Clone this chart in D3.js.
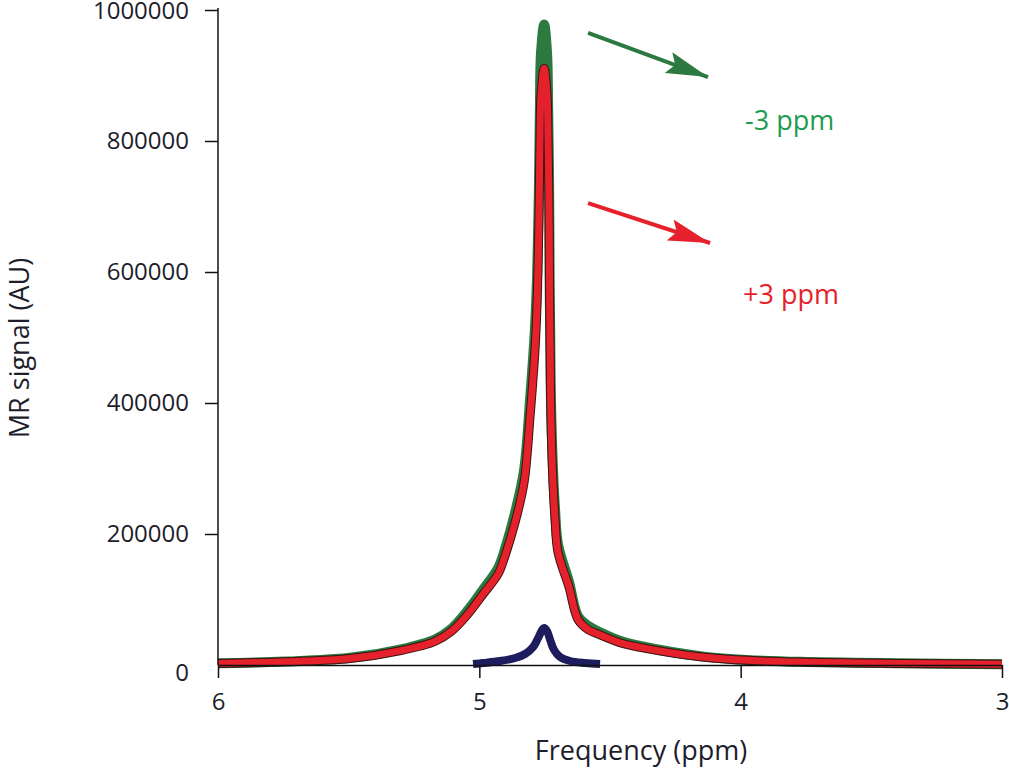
<!DOCTYPE html>
<html>
<head>
<meta charset="utf-8">
<script src="https://cdn.jsdelivr.net/npm/d3@7"></script>
<style>
  body { margin: 0; background: #fff; }
  svg { display: block; font-family: "Open Sans", "Noto Sans", sans-serif; }
  .axis text { font-family: "Open Sans", "Noto Sans", sans-serif; font-size: 24px; fill: #1d1d2b; }
  .axis path, .axis line { stroke: #111; stroke-width: 1.5; }
</style>
</head>
<body>
<script>
// frequency samples (ppm)
const ppm = [6.000, 5.744, 5.495, 5.300, 5.170, 5.108, 5.043, 4.986, 4.928, 4.898,
             4.863, 4.829, 4.806, 4.787, 4.779, 4.772, 4.768, 4.764, 4.752, 4.741,
             4.737, 4.733, 4.731, 4.729, 4.726, 4.718, 4.710, 4.699, 4.657, 4.622,
             4.584, 4.538, 4.462, 4.385, 4.155, 4.014, 3.773, 3.390, 3.000];
// -3 ppm (green)
const minus3 = [2600, 5200, 11000, 24000, 39000, 55000, 84000, 115000, 148000, 182000,
                233000, 297000, 405000, 515000, 592000, 730000, 860000, 935000, 978000, 935000,
                860000, 730000, 592000, 515000, 405000, 297000, 236000, 184000, 127000, 74000,
                60000, 50000, 37000, 29000, 13500, 8500, 4800, 2600, 1300];
// +3 ppm (red)
const plus3 = [2400, 5000, 10000, 22000, 36000, 51000, 78000, 108000, 139000, 171000,
               218000, 278000, 379000, 481000, 553000, 679000, 802000, 870000, 911000, 870000,
               802000, 679000, 553000, 481000, 379000, 278000, 221000, 172000, 119000, 69000,
               54000, 46000, 34000, 27000, 12500, 8000, 4500, 2400, 1200];
// small blue peak
const bluePpm = [5.024, 4.986, 4.921, 4.863, 4.825, 4.794, 4.775, 4.760, 4.752, 4.741,
                 4.729, 4.714, 4.691, 4.653, 4.595, 4.538];
const blueVal = [1500, 3000, 6000, 10700, 16800, 27500, 41200, 53400, 56500, 51900,
                 38200, 22900, 12200, 6100, 3000, 1500];

const xTicks = [6, 5, 4, 3];
const yTicks = [0, 200000, 400000, 600000, 800000, 1000000];

const w = 1009;
const h = 771;

const x = d3.scaleLinear().domain([6, 3]).range([218, 1002]);
const y = d3.scaleLinear().domain([0, 1000000]).range([665, 10]);

const svg = d3.select('body')
              .append('svg')
              .attr('width', w)
              .attr('height', h);

const line = d3.line()
               .x(d => x(d[0]))
               .y(d => y(d[1]))
               .curve(d3.curveCatmullRom.alpha(0.5));

const zip = (a, b) => a.map((v, i) => [v, b[i]]);

// curves
svg.append('path')
   .attr('d', line(zip(ppm, minus3)))
   .attr('fill', 'none')
   .attr('stroke', '#2c7a3f')
   .attr('stroke-width', 10)
   .attr('stroke-linejoin', 'round');

svg.append('path')
   .attr('d', line(zip(ppm, plus3)))
   .attr('fill', 'none')
   .attr('stroke', '#3b1414')
   .attr('stroke-width', 9)
   .attr('stroke-linejoin', 'round');

svg.append('path')
   .attr('d', line(zip(ppm, plus3)))
   .attr('fill', 'none')
   .attr('stroke', '#e5222b')
   .attr('stroke-width', 7)
   .attr('stroke-linejoin', 'round');

svg.append('path')
   .attr('d', line(zip(bluePpm, blueVal)))
   .attr('fill', 'none')
   .attr('stroke', '#1c1c5e')
   .attr('stroke-width', 8)
   .attr('stroke-linejoin', 'round');

// axes
const xAxis = d3.axisBottom(x).tickValues(xTicks).tickSize(13).tickSizeOuter(0).tickPadding(15)
                .tickFormat(d3.format('d'));
const yAxis = d3.axisLeft(y).tickValues(yTicks).tickSize(13).tickSizeOuter(0).tickPadding(16)
                .tickFormat(d3.format('d'));

svg.append('g')
   .attr('class', 'axis')
   .attr('id', 'x-axis')
   .attr('font-family', null)
   .attr('transform', 'translate(0,' + y(0) + ')')
   .call(xAxis);

const gy = svg.append('g')
   .attr('class', 'axis')
   .attr('id', 'y-axis')
   .attr('transform', 'translate(' + x(6) + ',0)')
   .call(yAxis);
gy.selectAll('.tick').filter(d => d === 0).select('line').remove();
gy.selectAll('.tick').filter(d => d === 0).select('text').attr('dy', '0.65em');
gy.select('.domain').attr('d', 'M0,' + (y(1000000) - 2) + 'V' + y(0));
gy.selectAll('.tick').filter(d => d === 1000000).select('text').attr('dy', '0.36em');

svg.append('text')
   .text('Frequency (ppm)')
   .attr('x', 641)
   .attr('y', 760)
   .attr('text-anchor', 'middle')
   .attr('font-size', 27)
   .attr('fill', '#1d1d2b');

svg.append('text')
   .text('MR signal (AU)')
   .attr('transform', 'translate(29,348)rotate(-90)')
   .attr('text-anchor', 'middle')
   .attr('font-size', 27)
   .attr('fill', '#1d1d2b');

// annotations
const defs = svg.append('defs');
[['head-green', '#2c7a3f'], ['head-red', '#e5222b']].forEach(([id, c]) => {
  defs.append('marker')
      .attr('id', id)
      .attr('markerUnits', 'userSpaceOnUse')
      .attr('viewBox', '0 -12 44 24')
      .attr('markerWidth', 44)
      .attr('markerHeight', 24)
      .attr('refX', 42)
      .attr('refY', 0)
      .attr('orient', 'auto')
      .append('path')
      .attr('d', 'M0,-11L42,0L0,11L7,0Z')
      .attr('fill', c);
});

svg.append('line')
   .attr('x1', x(4.584)).attr('y1', y(964900))
   .attr('x2', x(4.125)).attr('y2', y(897700))
   .attr('stroke', '#2c7a3f')
   .attr('stroke-width', 4)
   .attr('marker-end', 'url(#head-green)');

svg.append('line')
   .attr('x1', x(4.584)).attr('y1', y(705300))
   .attr('x2', x(4.117)).attr('y2', y(644300))
   .attr('stroke', '#e5222b')
   .attr('stroke-width', 4)
   .attr('marker-end', 'url(#head-red)');

svg.append('text')
   .text('-3 ppm')
   .attr('x', x(3.983))
   .attr('y', y(830500))
   .attr('dy', '0.35em')
   .attr('font-size', 27)
   .attr('fill', '#1f9a50');

svg.append('text')
   .text('+3 ppm')
   .attr('x', x(3.991))
   .attr('y', y(564900))
   .attr('dy', '0.35em')
   .attr('font-size', 27)
   .attr('fill', '#e5222b');
</script>
</body>
</html>
